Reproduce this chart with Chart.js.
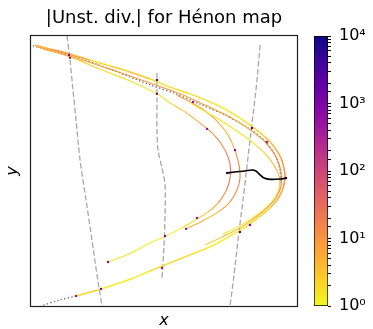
<!DOCTYPE html>
<html lang="en">
<head>
<meta charset="UTF-8">
<title>|Unst. div.| for Hénon map</title>
<script src="https://cdn.jsdelivr.net/npm/chart.js"></script>
<style>
  body { margin: 0; background: #fff; overflow: hidden; }
  #wrap { position: relative; width: 373px; height: 329px; }
  #main { position: absolute; left: 0; top: 0; }
  #cbar { position: absolute; left: 300px; top: 0; }
</style>
</head>
<body>
<div id="wrap">
  <canvas id="main" width="330" height="329"></canvas>
  <canvas id="cbar" width="73" height="329"></canvas>
</div>
<script>
// attractor strands (x, y, |unstable divergence|)
const outerX = [-1.358,-1.200,-0.989,-0.779,-0.568,-0.358,-0.147,0.063,0.274,0.484,0.695,0.905,1.063,1.168,1.232,1.263,1.274,1.253,1.200,1.116,0.989,0.874,0.747,0.621,0.484,0.274,0.063,-0.147,-0.347,-0.663,-0.926];
const outerY = [0.392,0.380,0.364,0.345,0.327,0.308,0.286,0.261,0.240,0.215,0.184,0.143,0.106,0.072,0.040,0.009,-0.019,-0.053,-0.087,-0.115,-0.146,-0.171,-0.193,-0.215,-0.236,-0.261,-0.286,-0.311,-0.336,-0.367,-0.389];
const outerDiv = [3,6,12,2,1.5,5,2,1.5,2,1.5,1.3,1.5,3,5,8,10,12,8,5,3,2,1.5,1.3,1.2,1.3,1.5,3,1.3,1.2,1.3,3];

const bandX = [-1.326,-0.989,-0.568,-0.147,0.168,0.432,0.695,0.926,1.074,1.179,1.232,1.232,1.179,1.074,0.926,0.779,0.611,0.432];
const bandY = [0.386,0.358,0.317,0.274,0.240,0.205,0.168,0.124,0.087,0.044,-0.003,-0.047,-0.084,-0.118,-0.152,-0.180,-0.205,-0.230];
const bandDiv = [8,10,6,12,8,6,5,8,10,15,20,15,10,8,6,5,3,2];

const band2X = [0.274,0.537,0.779,0.989,1.116,1.200,1.221,1.179,1.084,0.947,0.800,0.621];
const band2Y = [0.212,0.168,0.122,0.075,0.036,-0.006,-0.040,-0.078,-0.112,-0.143,-0.170,-0.196];
const band2Div = [2,1.5,1.3,2,3,4,3,2,1.5,1.3,1.2,1.5];

const foldAX = [-1.274,-0.989,-0.674,-0.358,-0.074,0.063,0.221,0.379,0.537,0.642,0.695,0.695,0.653,0.568,0.463,0.347,0.189,0.021,-0.147,-0.347,-0.589];
const foldAY = [0.380,0.355,0.317,0.280,0.240,0.212,0.184,0.149,0.109,0.065,0.022,-0.022,-0.062,-0.100,-0.128,-0.149,-0.177,-0.202,-0.224,-0.255,-0.283];
const foldADiv = [6,3,2,1.5,1.3,2,4,8,10,15,25,30,15,8,4,2,1.5,1.3,1.2,1.3,2];

const foldBX = [0.137,0.274,0.432,0.568,0.674,0.747,0.789,0.800,0.768,0.695,0.568,0.400,0.232];
const foldBY = [0.236,0.215,0.187,0.152,0.112,0.065,0.019,-0.022,-0.059,-0.096,-0.128,-0.156,-0.180];
const foldBDiv = [6,10,8,5,4,8,15,20,15,8,5,4,6];

// high divergence spots
const spotX = [-1.000,-0.989,-0.074,-0.074,0.305,0.453,0.926,1.084,0.747,0.663,1.284,0.905,0.800,0.347,0.232,0.011,-0.021,-0.589,-0.663,-0.926];
const spotY = [0.361,0.352,0.283,0.240,0.215,0.131,0.134,0.090,0.065,-0.006,-0.022,-0.168,-0.190,-0.146,-0.180,-0.202,-0.302,-0.283,-0.367,-0.389];
const spotDiv = [1000,800,2000,1500,600,500,3000,500,1500,2000,3000,800,3000,600,800,800,600,1000,1000,500];

// unstable manifold (dotted)
const unstX = [-1.379,-0.989,-0.568,-0.147,0.126,0.379,0.642,0.884,1.053,1.168,1.221,1.221];
const unstY = [0.389,0.361,0.317,0.268,0.240,0.208,0.174,0.134,0.096,0.050,0.003,-0.040];
const tailX = [-0.926,-1.095,-1.295];
const tailY = [-0.389,-0.401,-0.420];

// stable manifold pieces (dashed)
const stab1X = [-1.021,-0.989,-0.958,-0.926,-0.884,-0.821,-0.758,-0.705,-0.653];
const stab1Y = [0.420,0.345,0.252,0.159,0.034,-0.090,-0.215,-0.324,-0.420];
const stab2X = [-0.074,-0.074,-0.074,-0.063,-0.021,0.011,0.011,0.000,-0.021];
const stab2Y = [0.305,0.221,0.128,0.065,0.009,-0.044,-0.137,-0.230,-0.333];
const stab3X = [1.011,0.979,0.937,0.905,0.863,0.832,0.779,0.737,0.695];
const stab3Y = [0.392,0.283,0.174,0.096,-0.012,-0.090,-0.215,-0.324,-0.420];

// black path
const pathX = [0.663,0.747,0.853,0.926,0.968,1.011,1.053,1.116,1.221,1.295];
const pathY = [-0.006,-0.003,0.000,0.003,0.000,-0.012,-0.022,-0.026,-0.025,-0.022];

const cbarTicks = [1, 10, 100, 1000, 10000];

const plasma = ['#0d0887','#41049d','#6a00a8','#8f0da4','#b12a90','#cc4778','#e16462','#f2844b','#fca636','#fcce25','#f0f921'];
const hex = h => [1, 3, 5].map(i => parseInt(h.substr(i, 2), 16));
function divColor(v) {
  const t = 1 - Math.log10(Math.max(1, Math.min(1e4, v))) / 4;
  const p = t * 10, i = Math.min(9, Math.floor(p)), f = p - i;
  const a = hex(plasma[i]), b = hex(plasma[i + 1]);
  const c = a.map((q, k) => Math.round(q + (b[k] - q) * f));
  return `rgb(${c[0]},${c[1]},${c[2]})`;
}

const pts = (xs, ys) => xs.map((x, i) => ({x: x, y: ys[i]}));

function strand(xs, ys, vals, w) {
  return {
    data: pts(xs, ys), showLine: true, pointRadius: 0, borderWidth: w || 1.1, tension: 0.35, order: 2,
    borderColor: divColor(vals[0]),
    segment: { borderColor: c => divColor(Math.sqrt(vals[c.p0DataIndex] * vals[c.p1DataIndex])) }
  };
}
function dashed(xs, ys) {
  return { data: pts(xs, ys), showLine: true, pointRadius: 0, borderWidth: 1.3, tension: 0.3,
           borderColor: '#a8a8a8', borderDash: [5.5, 2.5], order: 5 };
}
function dotted(xs, ys) {
  return { data: pts(xs, ys), showLine: true, pointRadius: 0, borderWidth: 1.3, tension: 0.3,
           borderColor: '#707070', borderDash: [1.4, 2.2], order: 4 };
}

const frame = {
  id: 'frame',
  afterDraw(chart) {
    const {ctx, chartArea: a} = chart;
    ctx.save();
    ctx.strokeStyle = '#222';
    ctx.lineWidth = 1.2;
    ctx.strokeRect(a.left - 0.5, a.top - 0.5, a.right - a.left + 1, a.bottom - a.top + 1);
    ctx.restore();
  }
};

const labelFont = {family: 'DejaVu Sans', size: 16, style: 'italic', lineHeight: 1};

new Chart(document.getElementById('main'), {
  type: 'scatter',
  data: {
    datasets: [
      { data: pts(pathX, pathY), showLine: true, pointRadius: 0, borderWidth: 1.6, tension: 0.3, borderColor: '#000', order: 0 },
      { data: pts(spotX, spotY), pointRadius: 1.2, borderWidth: 0, backgroundColor: spotDiv.map(divColor), order: 1 },
      strand(outerX, outerY, outerDiv, 1.5),
      strand(bandX, bandY, bandDiv),
      strand(band2X, band2Y, band2Div),
      strand(foldAX, foldAY, foldADiv),
      strand(foldBX, foldBY, foldBDiv),
      dotted(unstX, unstY),
      dotted(tailX, tailY),
      dashed(stab1X, stab1Y),
      dashed(stab2X, stab2Y),
      dashed(stab3X, stab3Y)
    ]
  },
  options: {
    responsive: false,
    animation: false,
    layout: { padding: { left: 0, right: 33, top: 0, bottom: 0 } },
    plugins: {
      legend: { display: false },
      tooltip: { enabled: false },
      title: {
        display: true,
        fullSize: false,
        text: '|Unst. div.| for Hénon map',
        color: '#000',
        font: { family: 'DejaVu Sans', size: 18, weight: 'normal' },
        padding: { top: 8, bottom: 6.4 }
      }
    },
    scales: {
      x: {
        min: -1.4, max: 1.4,
        ticks: { display: false },
        grid: { display: false, drawTicks: false },
        border: { display: false },
        title: { display: true, text: 'x', color: '#000', font: labelFont, padding: { top: 7, bottom: 0 } }
      },
      y: {
        min: -0.42, max: 0.42,
        ticks: { display: false },
        grid: { display: false, drawTicks: false },
        border: { display: false },
        title: { display: true, text: 'y', color: '#000', font: labelFont, padding: { top: 5, bottom: 10 } }
      }
    }
  },
  plugins: [frame]
});

const sup = {'0': '⁰', '1': '¹', '2': '²', '3': '³', '4': '⁴'};

new Chart(document.getElementById('cbar'), {
  type: 'bar',
  data: {
    labels: [''],
    datasets: [{
      data: [[cbarTicks[0], cbarTicks[cbarTicks.length - 1]]],
      borderColor: '#000',
      borderWidth: 1,
      borderSkipped: false,
      barPercentage: 1,
      categoryPercentage: 1,
      backgroundColor: c => {
        const a = c.chart.chartArea;
        if (!a) return '#fcce25';
        const g = c.chart.ctx.createLinearGradient(0, a.bottom, 0, a.top);
        plasma.forEach((col, k) => g.addColorStop(k / 10, plasma[10 - k]));
        return g;
      }
    }]
  },
  options: {
    responsive: false,
    animation: false,
    layout: { padding: { left: 14, right: 0, top: 36, bottom: 23 } },
    plugins: { legend: { display: false }, tooltip: { enabled: false } },
    scales: {
      x: { display: false },
      y: {
        type: 'logarithmic',
        position: 'right',
        min: 1, max: 10000,
        afterFit: s => { s.width = 45; },
        border: { display: false },
        grid: { display: true, drawOnChartArea: false, drawTicks: true, tickLength: 3, color: '#000' },
        ticks: {
          autoSkip: false,
          padding: 8,
          color: '#000',
          font: { family: 'DejaVu Sans', size: 16 },
          callback: v => {
            const k = Math.log10(v);
            if (Math.abs(k - Math.round(k)) > 1e-9) return '';
            return '10' + sup[String(Math.round(k))];
          }
        }
      }
    }
  }
});
</script>
</body>
</html>
